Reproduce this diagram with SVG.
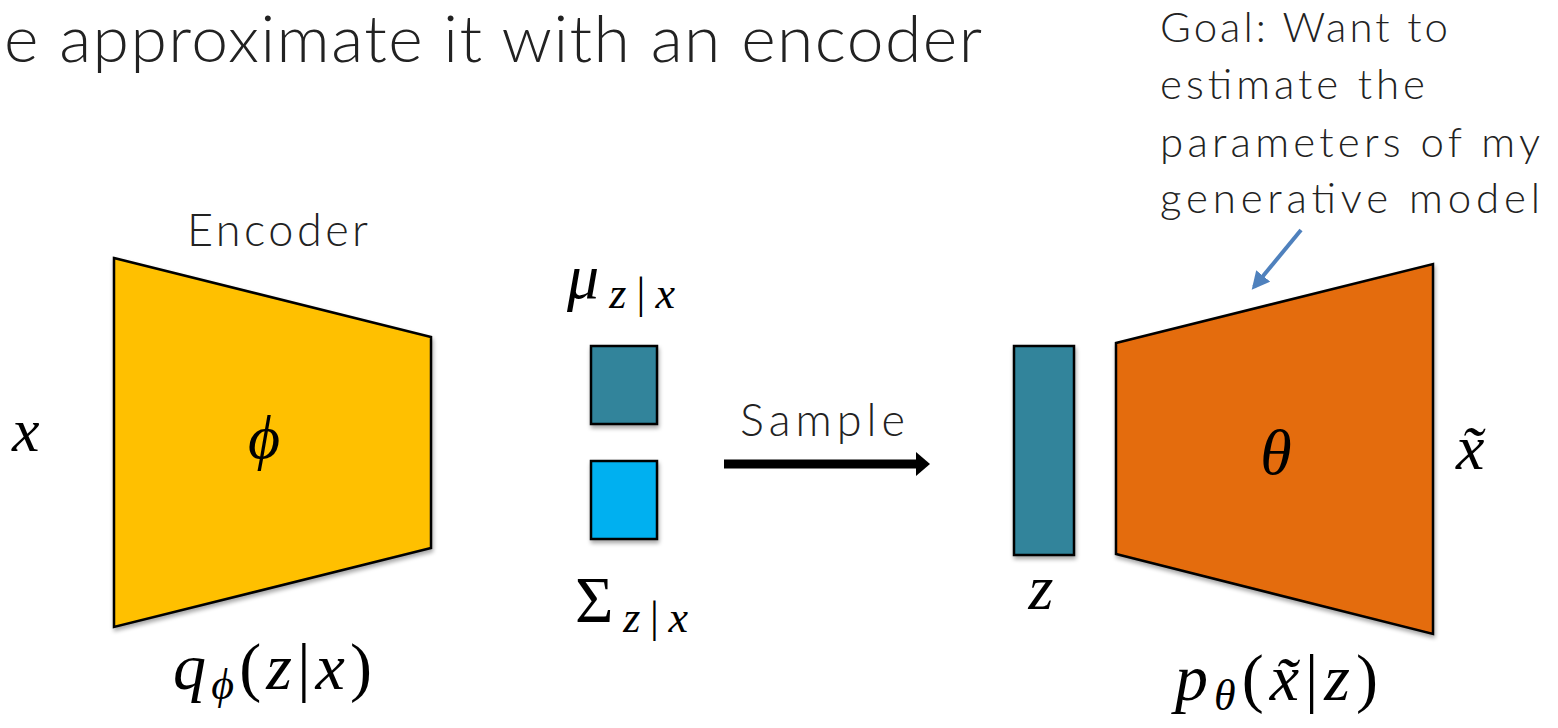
<svg xmlns="http://www.w3.org/2000/svg" width="1558" height="728" viewBox="0 0 1558 728">
<style>
.t{font-family:Lato,"Open Sans","Liberation Sans",sans-serif;font-weight:300;fill:#222}
.m{font-family:"Liberation Serif","DejaVu Serif",serif;fill:#000}
.i{font-style:italic}
.sh{stroke:#000;stroke-width:2.5;stroke-linejoin:miter}
</style>
<defs>
<filter id="ds" x="-10%" y="-10%" width="130%" height="130%">
<feGaussianBlur in="SourceAlpha" stdDeviation="2"/>
<feOffset dx="1" dy="3" result="b"/>
<feComponentTransfer><feFuncA type="linear" slope="0.35"/></feComponentTransfer>
<feMerge><feMergeNode/><feMergeNode in="SourceGraphic"/></feMerge>
</filter>
<marker id="bluehead" viewBox="0 0 10 10" refX="8" refY="5" markerWidth="4.5" markerHeight="4.5" orient="auto" markerUnits="strokeWidth">
<path d="M0,0 L10,5 L0,10 z" fill="#4F81BD"/>
</marker>
</defs>
<rect width="1558" height="728" fill="#fff"/>
<text class="t" x="4" y="62" font-size="66" textLength="978">e approximate it with an encoder</text>
<g id="goal">
<text class="t" x="1160" y="42" font-size="42" textLength="288">Goal: Want to</text>
<text class="t" x="1160" y="99" font-size="42" textLength="265">estimate the</text>
<text class="t" x="1160" y="157" font-size="42" textLength="380">parameters of my</text>
<text class="t" x="1160" y="213" font-size="42" textLength="380">generative model</text>
</g>
<g id="encoder">
<polygon class="sh" points="114,258 431,337 431,548 114,627" fill="#FFC000" filter="url(#ds)"/>
<text class="t" x="187" y="246" font-size="45" textLength="181">Encoder</text>
<text class="m i" x="264" y="458" font-size="62" text-anchor="middle">ϕ</text>
</g>
<g id="x-in">
<text class="m i" x="12" y="451" font-size="62">x</text>
</g>
<g id="q-label">
<text class="m" x="173" y="689" font-size="66" textLength="199"><tspan class="i">q</tspan><tspan class="i" font-size="44" dy="10">ϕ</tspan><tspan dy="-10">(</tspan><tspan class="i">z</tspan>|<tspan class="i">x</tspan>)</text>
</g>
<g id="mu">
<rect class="sh" x="591" y="346" width="66" height="78" fill="#31849B" filter="url(#ds)"/>
<text class="m" x="567" y="298" font-size="64" textLength="108"><tspan class="i">μ</tspan><tspan font-size="44" dy="10"><tspan class="i">z</tspan>|<tspan class="i">x</tspan></tspan></text>
</g>
<g id="sigma">
<rect class="sh" x="591" y="461" width="66" height="78" fill="#00B0F0" filter="url(#ds)"/>
<text class="m" x="575" y="622" font-size="66" textLength="113">Σ<tspan font-size="44" dy="10"><tspan class="i">z</tspan>|<tspan class="i">x</tspan></tspan></text>
</g>
<g id="z">
<rect class="sh" x="1014" y="346" width="60" height="209" fill="#31849B" filter="url(#ds)"/>
<text class="m i" x="1041" y="609" font-size="64" text-anchor="middle">z</text>
</g>
<g id="decoder">
<polygon class="sh" points="1116,343 1433,264 1433,634 1116,554" fill="#E46C0A" filter="url(#ds)"/>
<text class="m i" x="1276" y="474" font-size="64" text-anchor="middle">θ</text>
</g>
<g id="x-out">
<text class="m i" x="1456" y="469" font-size="64">x̃</text>
</g>
<g id="p-label">
<text class="m" x="1175" y="700" font-size="66" textLength="203"><tspan class="i">p</tspan><tspan class="i" font-size="44" dy="10">θ</tspan><tspan dy="-10">(</tspan><tspan class="i">x̃</tspan>|<tspan class="i">z</tspan>)</text>
</g>
<g id="connectors">
<g id="sample">
<line x1="724" y1="464" x2="918" y2="464" stroke="#000" stroke-width="9"/>
<polygon points="916,452 930,464 916,476" fill="#000"/>
<text class="t" x="740" y="436" font-size="45" textLength="165">Sample</text>
</g>
<line x1="1301" y1="230" x2="1254" y2="287" stroke="#4F81BD" stroke-width="4" marker-end="url(#bluehead)"/>
</g>
</svg>
